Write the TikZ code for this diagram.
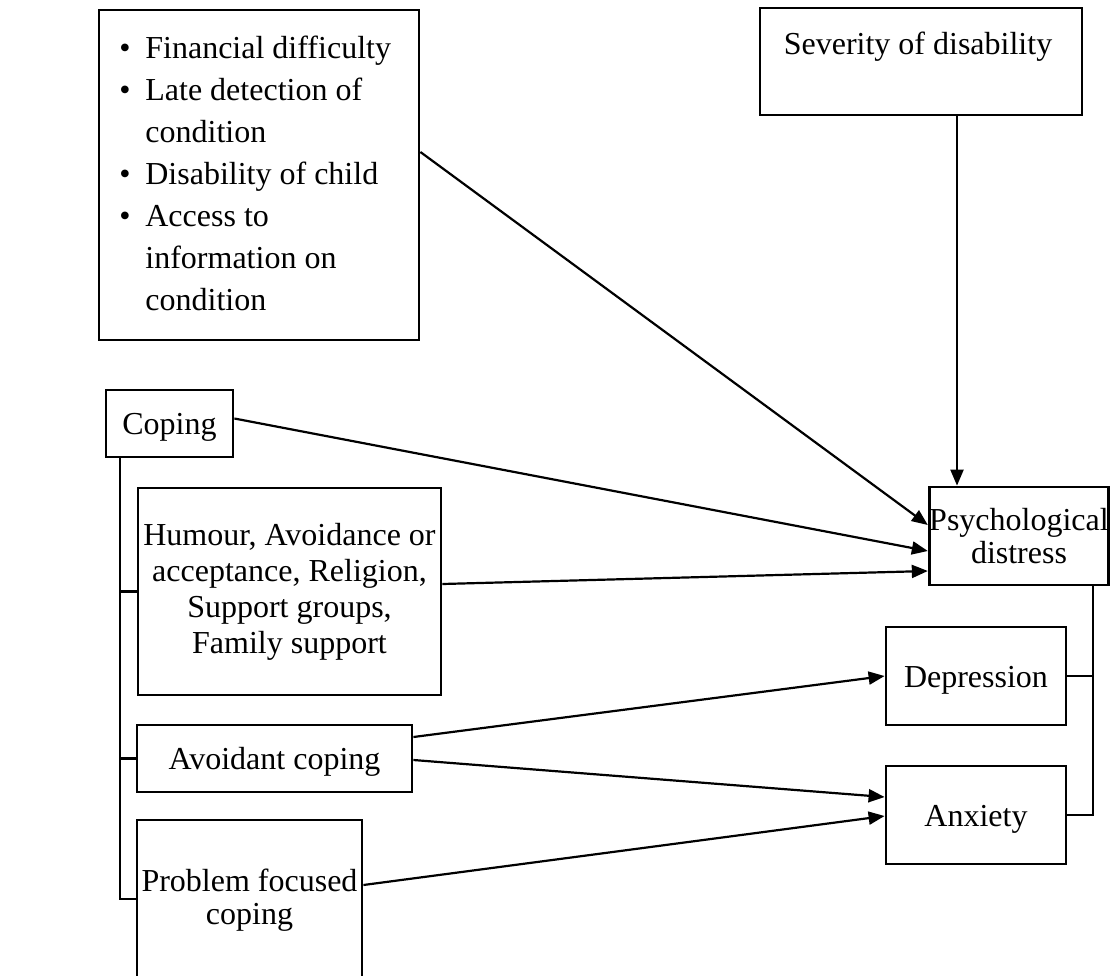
\documentclass[tikz,border=0pt]{standalone}
\usepackage{fontspec}
\setmainfont{Liberation Serif}
\usetikzlibrary{arrows.meta,calc}
\begin{document}
\begin{tikzpicture}[x=0.5pt,y=-0.5pt,
  box/.style={draw, line width=1.4pt, inner sep=0pt, align=center, font=\fontsize{16}{18}\selectfont},
  one/.style={text height=14pt, text depth=3pt},
  txt/.style={inner sep=0pt, font=\fontsize{16}{18}\selectfont},
  arr/.style={line width=1.1pt, -{Triangle[length=8pt,width=6.5pt]}},
  ln/.style={line width=1.4pt}]
\useasboundingbox (0,0) rectangle (1114,975);
\clip (0,0) rectangle (1114,975);

% boxes
\node[box, minimum width=160pt, minimum height=165pt] (bul) at (259,175) {};
\node[txt, anchor=north west, align=left, font=\fontsize{16}{21}\selectfont] (bult) at (119,36)
  {\makebox[13pt][l]{\textbullet}Financial difficulty\\
   \makebox[13pt][l]{\textbullet}Late detection of\\
   \hspace*{13pt}condition\\
   \makebox[13pt][l]{\textbullet}Disability of child\\
   \makebox[13pt][l]{\textbullet}Access to\\
   \hspace*{13pt}information on\\
   \hspace*{13pt}condition};

\node[box, minimum width=161pt, minimum height=53.5pt] (sev) at (921,61.5) {};
\node[txt, anchor=base] (sevt) at (918,54) {Severity of disability};

\node[box, one, minimum width=63.5pt, minimum height=33.5pt] (cop) at (169.5,423.5) {Coping};

\node[box, minimum width=151.5pt, minimum height=103.5pt] (hum) at (289.5,591.5)
  {Humour, Avoidance or\\ acceptance, Religion,\\ Support groups,\\ Family support};

\node[box, one, minimum width=137.5pt, minimum height=33.5pt] (avo) at (274.5,758.5) {Avoidant coping};

\node[box, minimum width=112.5pt, minimum height=90pt] (pro) at (249.5,910) {};
\node[txt, anchor=north, align=center, font=\fontsize{16}{16.5}\selectfont] (prot) at (249.5,869)
  {Problem focused\\ coping};

\node[box, minimum width=89pt, minimum height=49pt, font=\fontsize{16}{16.5}\selectfont] (psy) at (1019,536)
  {Psychological\\ distress};

\node[box, one, minimum width=90pt, minimum height=49pt] (dep) at (976,676) {Depression};
\node[box, one, minimum width=90pt, minimum height=49pt] (anx) at (976,815) {Anxiety};

% arrows
\draw[arr] ($(bul.east)+(0,-23)$) -- ($(psy.west)+(0,-11)$);
\draw[arr] ($(cop.east)+(0,-5)$) -- ($(psy.west)+(0,15)$);
\draw[arr] ($(hum.east)+(0,-7.5)$) -- ($(psy.west)+(0,35)$);
\draw[arr] ($(sev.south)+(36,0)$) -- ($(psy.north)+(-62,0)$);
\draw[arr] ($(avo.east)+(0,-21.5)$) -- (dep.west);
\draw[arr] ($(avo.east)+(0,1.5)$) -- ($(anx.west)+(0,-18)$);
\draw[arr] ($(pro.east)+(0,-25)$) -- ($(anx.west)+(0,1)$);

% right bracket
\coordinate (rb) at ($(psy.south)+(74,0)$);
\draw[ln] (rb) |- (anx.east);
\draw[ln] (dep.east) -- (rb |- dep.east);

% left bracket
\coordinate (lb) at ($(cop.south)+(-49.5,0)$);
\coordinate (pl) at ($(pro.west)+(0,-11)$);
\draw[ln] (lb) |- (pl);
\draw[ln] (hum.west) -- (lb |- hum.west);
\draw[ln] (avo.west) -- (lb |- avo.west);
\end{tikzpicture}
\end{document}
